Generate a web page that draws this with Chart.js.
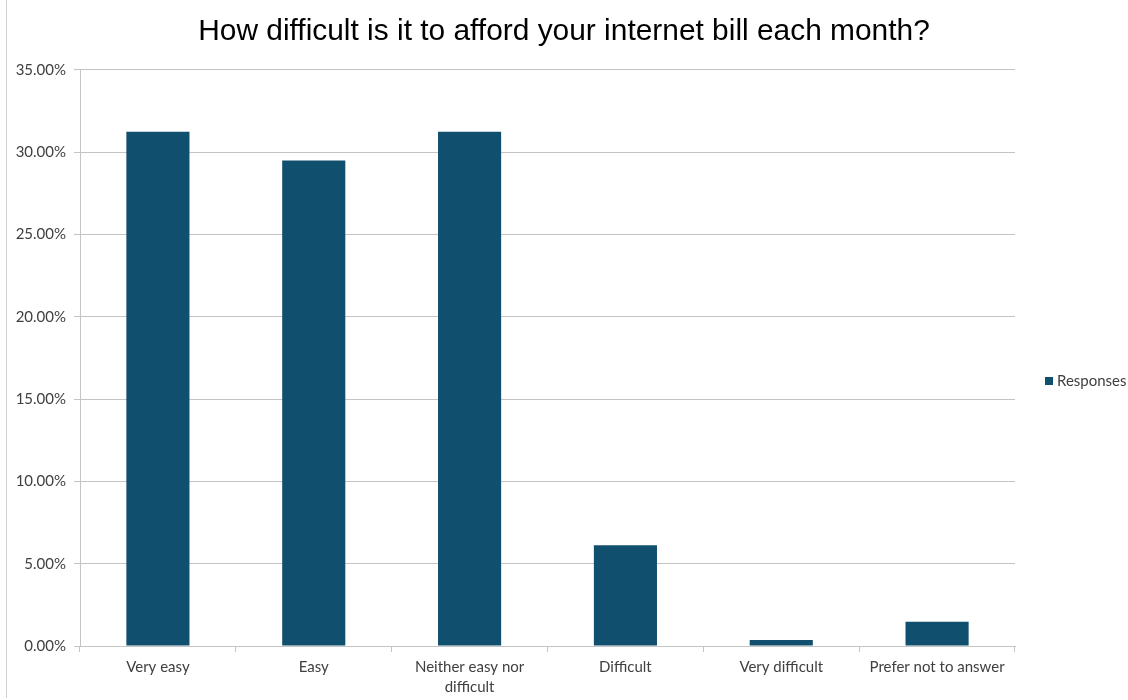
<!DOCTYPE html>
<html>
<head>
<meta charset="utf-8">
<script src="https://cdn.jsdelivr.net/npm/chart.js@4"></script>
<style>
  html, body { margin: 0; padding: 0; background: #fff; }
  #wrap { width: 1128px; height: 700px; position: relative; }
</style>
</head>
<body>
<div id="wrap"><canvas id="chart"></canvas></div>
<script>
// Datos del gráfico
const categories = ['Very easy', 'Easy', ['Neither easy nor', 'difficult'], 'Difficult', 'Very difficult', 'Prefer not to answer'];
const responses = [31.25, 29.5, 31.25, 6.12, 0.37, 1.47];
const seriesName = 'Responses';
const titleText = 'How difficult is it to afford your internet bill each month?';
const yTicks = [0, 5, 10, 15, 20, 25, 30, 35];

const barColor = '#114f6e';
const gridColor = '#c4c4c4';
const textColor = '#404040';
const labelFont = { family: 'Lato, "Open Sans", sans-serif', size: 15, lineHeight: 1.33 };

// Línea gris a la izquierda y leyenda a la derecha como en la imagen original
const decorations = {
    id: 'decorations',
    afterDraw(chart) {
        const ctx = chart.ctx;
        const area = chart.chartArea;
        ctx.save();
        ctx.strokeStyle = '#d0d0d0';
        ctx.lineWidth = 1;
        ctx.beginPath();
        ctx.moveTo(6.5, 0);
        ctx.lineTo(6.5, 698);
        ctx.stroke();

        // leyenda
        const lx = area.right + 30;
        const ly = (area.top + area.bottom) / 2 + 23;
        ctx.fillStyle = chart.data.datasets[0].backgroundColor;
        ctx.fillRect(lx, ly - 4, 8, 8);
        ctx.fillStyle = textColor;
        ctx.font = `${labelFont.size}px ${labelFont.family}`;
        ctx.textBaseline = 'middle';
        ctx.textAlign = 'left';
        ctx.fillText(chart.data.datasets[0].label, lx + 12, ly);
        ctx.restore();
    }
};

new Chart(document.getElementById('chart'), {
    type: 'bar',
    data: {
        labels: categories,
        datasets: [{
            label: seriesName,
            data: responses,
            backgroundColor: barColor,
            borderWidth: 0,
            categoryPercentage: 1,
            barPercentage: 0.405
        }]
    },
    options: {
        responsive: true,
        maintainAspectRatio: false,
        animation: false,
        layout: { padding: 0 },
        plugins: {
            title: {
                display: true,
                text: titleText,
                color: '#000',
                font: { family: '"Liberation Sans", Arial, sans-serif', size: 29.9, weight: 'normal', lineHeight: 1.2 },
                padding: { top: 14, bottom: 20.1 }
            },
            legend: { display: false },
            tooltip: { enabled: false }
        },
        scales: {
            x: {
                afterFit(scale) { scale.height = 54; },
                grid: {
                    display: true,
                    drawOnChartArea: false,
                    drawTicks: true,
                    tickLength: 6,
                    color: gridColor,
                    offset: true
                },
                border: { color: gridColor, width: 1 },
                ticks: {
                    color: textColor,
                    font: labelFont,
                    padding: 5,
                    maxRotation: 0,
                    autoSkip: false
                }
            },
            y: {
                min: 0,
                max: 35,
                afterFit(scale) { scale.width = 80; },
                afterBuildTicks(scale) { scale.ticks = yTicks.map(v => ({ value: v })); },
                grid: {
                    color: gridColor,
                    drawTicks: true,
                    tickLength: 6
                },
                border: { color: gridColor, width: 1 },
                ticks: {
                    color: textColor,
                    font: labelFont,
                    padding: 8,
                    callback: v => v.toFixed(2) + '%'
                }
            },
            // espacio vacío a la derecha para la leyenda
            yRight: {
                position: 'right',
                afterFit(scale) { scale.width = 113; },
                grid: { display: false, drawTicks: false },
                border: { display: false },
                ticks: { display: false }
            }
        }
    },
    plugins: [decorations]
});
</script>
</body>
</html>
